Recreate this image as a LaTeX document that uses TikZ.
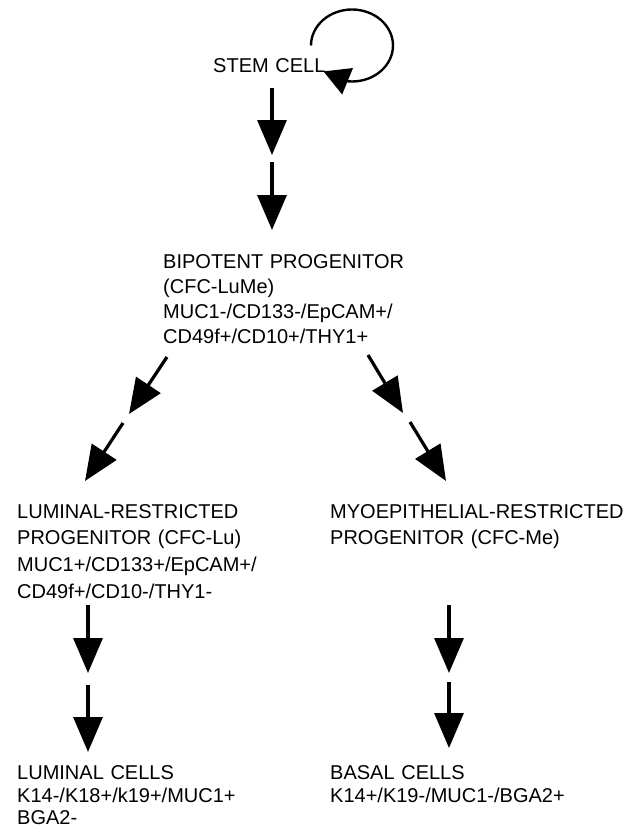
\documentclass[tikz,border=0pt]{standalone}
\usepackage{fontspec}
\setmainfont{Liberation Sans}
\usetikzlibrary{arrows.meta,bending}
\begin{document}
\begin{tikzpicture}[x=1pt,y=1pt,
  lbl/.style={anchor=base west, inner sep=0pt, align=left, text width=320pt,
    font=\fontsize{20}{25}\selectfont},
  bigarrow/.style={line width=3.2pt, -{Triangle[length=35pt,width=29pt]}},
  looparrow/.style={line width=2.4pt, -{Triangle[length=26pt,width=28pt]}}
]
\path[use as bounding box] (0,0) rectangle (627,-828);

% texts
\node[lbl] (stem) at (213,-72) {STEM CELL};
\node[lbl] (bipot) at (163,-268) {BIPOTENT PROGENITOR\\(CFC-LuMe)\\MUC1-/CD133-/EpCAM+/\\CD49f+/CD10+/THY1+};
\node[lbl, font=\fontsize{20}{26.7}\selectfont] (lumprog) at (17,-518) {LUMINAL-RESTRICTED\\PROGENITOR (CFC-Lu)\\MUC1+/CD133+/EpCAM+/\\CD49f+/CD10-/THY1-};
\node[lbl, font=\fontsize{20}{26.7}\selectfont] (myoprog) at (330,-518) {MYOEPITHELIAL-RESTRICTED\\PROGENITOR (CFC-Me)};
\node[lbl, font=\fontsize{20}{22.5}\selectfont] (lumcells) at (17,-779.5) {LUMINAL CELLS\\K14-/K18+/k19+/MUC1+\\BGA2-};
\node[lbl, font=\fontsize{20}{22.5}\selectfont] (basal) at (330,-779.5) {BASAL CELLS\\K14+/K19-/MUC1-/BGA2+};

% self-renewal loop
\coordinate (loopstart) at (311,-45.5);
\draw[looparrow] (loopstart) arc[start angle=180, end angle=-134, x radius=41, y radius=36];

% stem -> bipotent
\coordinate (a1s) at (272,-88);  \coordinate (a1e) at (272,-155);
\coordinate (a2s) at (272,-162); \coordinate (a2e) at (272,-230);
\draw[bigarrow] (a1s) -- (a1e);
\draw[bigarrow] (a2s) -- (a2e);

% bipotent -> luminal progenitor
\coordinate (l1s) at (167,-357); \coordinate (l1e) at (129,-414);
\coordinate (l2s) at (123,-423); \coordinate (l2e) at (85,-481);
\draw[bigarrow] (l1s) -- (l1e);
\draw[bigarrow] (l2s) -- (l2e);

% bipotent -> myoepithelial progenitor
\coordinate (r1s) at (368,-355); \coordinate (r1e) at (403,-413);
\coordinate (r2s) at (410,-422); \coordinate (r2e) at (446,-481);
\draw[bigarrow] (r1s) -- (r1e);
\draw[bigarrow] (r2s) -- (r2e);

% luminal progenitor -> luminal cells
\coordinate (ll1s) at (88,-605); \coordinate (ll1e) at (88,-673);
\coordinate (ll2s) at (88,-685); \coordinate (ll2e) at (88,-752);
\draw[bigarrow] (ll1s) -- (ll1e);
\draw[bigarrow] (ll2s) -- (ll2e);

% myoepithelial progenitor -> basal cells
\coordinate (lr1s) at (449,-605); \coordinate (lr1e) at (449,-673);
\coordinate (lr2s) at (449,-682); \coordinate (lr2e) at (449,-748);
\draw[bigarrow] (lr1s) -- (lr1e);
\draw[bigarrow] (lr2s) -- (lr2e);
\end{tikzpicture}
\end{document}
